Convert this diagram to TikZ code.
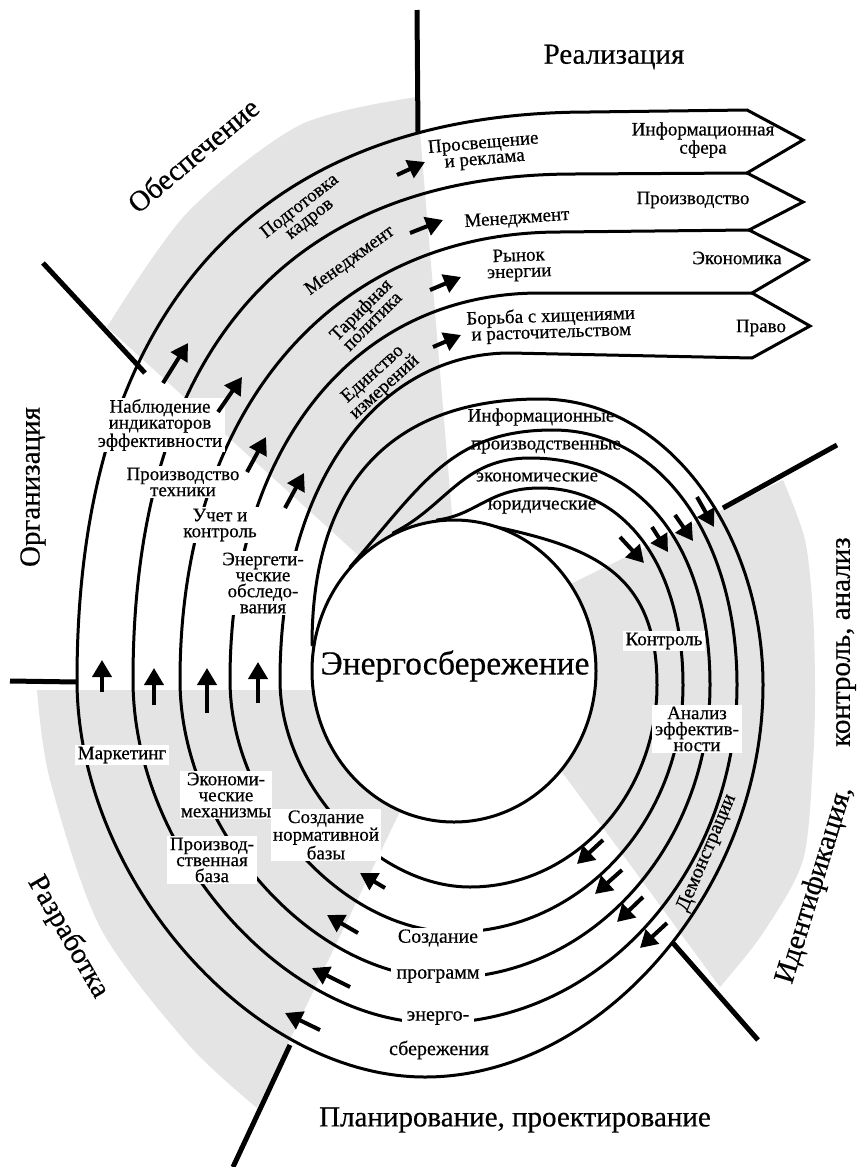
\documentclass[tikz,border=0pt]{standalone}
\usepackage{fontspec}
\setmainfont{Liberation Serif}[AutoFakeBold=0.5]
\usetikzlibrary{arrows.meta}
\definecolor{gr}{RGB}{228,228,228}
\begin{document}
\begin{tikzpicture}[x=1pt,y=-1pt,
  spiral/.style={line width=3pt, line cap=round},
  divider/.style={line width=5pt},
  arr/.style={line width=4pt, -{Triangle[length=17pt,width=19pt]}},
  lbl/.style={font=\fontsize{19}{16}\selectfont\bfseries, align=center, inner sep=1pt},
  wlbl/.style={lbl, fill=white, inner xsep=3pt, inner ysep=1.5pt},
  title/.style={font=\fontsize{29}{30}\selectfont\bfseries, inner sep=0pt},
]
\fill[white] (0,0) rectangle (861,1167);
\useasboundingbox (0,0) rectangle (861,1167);

% grey sectors
\fill[gr] plot[smooth] coordinates {(417,97) (300,125) (187,213) (107,327)} -- (380,575) -- (454,600) -- (452,515) -- cycle;
\fill[gr] (540,599) -- (783,480) -- plot[smooth] coordinates {(783,480) (805,540) (813,613) (815,690) (813,760) (803,860) (763,933) (720,987)} -- (540,742) -- cycle;
\fill[gr] (37,690) -- (420,690) -- (420,770) -- plot[smooth] coordinates {(257,1108) (187,1043) (100,927) (50,780) (37,690)} -- cycle;

% spiral lines
\draw[spiral] (312,645) .. controls (312,480) and (395,399) .. (540,399)
  .. controls (670,399) and (763,537) .. (763,685)
  .. controls (763,889) and (601,1077) .. (425,1077)
  .. controls (251,1077) and (77,878) .. (77,680)
  .. controls (77,311) and (256,112) .. (590,112) -- (747,110)
  -- (803,140) -- (747,173) -- (803,202) -- (749,230) -- (808,260) -- (752,293) -- (810,326) -- (752,358);
\draw[spiral] (350,567) .. controls (422,485) and (451,430) .. (553,430)
  .. controls (660,430) and (737,537) .. (737,685)
  .. controls (737,871) and (601,1023) .. (435,1023)
  .. controls (284,1023) and (133,851) .. (133,680)
  .. controls (133,351) and (288,174) .. (575,174) -- (747,173);
\draw[spiral] (393,533) .. controls (447,506) and (462,458) .. (530,458)
  .. controls (640,458) and (710,545) .. (710,685)
  .. controls (710,846) and (591,978) .. (445,978)
  .. controls (312,978) and (180,829) .. (180,680)
  .. controls (180,411) and (332,232) .. (560,232) -- (749,230);
\draw[spiral] (437,520) .. controls (477,515) and (489,488) .. (540,488)
  .. controls (626,488) and (683,567) .. (683,685)
  .. controls (683,821) and (580,932) .. (455,932)
  .. controls (342,932) and (230,806) .. (230,680)
  .. controls (230,448) and (354,293) .. (540,293) -- (752,293);
\draw[spiral] (482,524) .. controls (590,546) and (657,570) .. (657,685)
  .. controls (657,796) and (573,887) .. (470,887)
  .. controls (375,887) and (280,783) .. (280,680)
  .. controls (280,480) and (380,353) .. (510,353) -- (752,358);

% central ellipse
\draw[line width=3pt, fill=white] (454,671) ellipse [x radius=142pt, y radius=151pt];
\node[font=\fontsize{33.5}{34}\selectfont\bfseries, inner sep=0pt] (core) at (455,666) {Энергосбережение};

% dividers
\draw[divider] (417,10) -- (418,132);
\draw[divider] (43,263) -- (145,373);
\draw[divider] (10,681) -- (77,682);
\draw[divider] (290,1045) -- (233,1167);
\draw[divider] (673,943) -- (758,1040);
\draw[divider] (723,508) -- (837,445);

% section titles
\node[title] (t1) at (614,57) {Реализация};
\node[title, rotate=40] (t2) at (193,155) {Обеспечение};
\node[title, rotate=90] (t3) at (33,487) {Организация};
\node[title, rotate=-60] (t4) at (68,937) {Разработка};
\node[title] (t5) at (515,1120) {Планирование, проектирование};
\node[title, rotate=73] (t6) at (815,885) {Идентификация,};
\node[title, rotate=90] (t7) at (846,642) {контроль, анализ};

% band labels
\node[lbl] (b1) at (703,140) {Информационная\\сфера};
\node[lbl] (b2) at (693,200) {Производство};
\node[lbl] (b3) at (737,258) {Экономика};
\node[lbl] (b4) at (761,328) {Право};
\node[lbl, rotate=5] (r1) at (484,152) {Просвещение\\и реклама};
\node[lbl, rotate=4] (r2) at (517,219) {Менеджмент};
\node[lbl, rotate=2] (r3) at (519,265) {Рынок\\энергии};
\node[lbl, rotate=2] (r4) at (551,325) {Борьба с хищениями\\и расточительством};

% arc labels upper left
\node[lbl, rotate=38] (s1) at (305,213) {Подготовка\\кадров};
\node[lbl, rotate=36] (s2) at (350,261) {Менеджмент};
\node[lbl, rotate=45] (s3) at (366,315) {Тарифная\\политика};
\node[lbl, rotate=42] (s4) at (379,381) {Единство\\измерений};

% inner labels
\node[lbl] (i1) at (541,417) {Информационные};
\node[lbl] (i2) at (546,447) {производственные};
\node[lbl] (i3) at (537,477) {экономические};
\node[lbl] (i4) at (542,507) {юридические};

% right labels
\node[wlbl] (k1) at (664,641) {Контроль};
\node[wlbl] (k2) at (697,729) {Анализ\\эффектив-\\ности};
\node[lbl, font=\fontsize{20}{20}\selectfont\bfseries, rotate=67] (k3) at (707,853) {Демонстрации};

% bottom labels
\node[wlbl, font=\fontsize{20}{20}\selectfont\bfseries, inner xsep=5pt] (p1) at (438,938) {Создание};
\node[wlbl, font=\fontsize{20}{20}\selectfont\bfseries, inner xsep=5pt] (p2) at (438,976) {программ};
\node[wlbl, font=\fontsize{20}{20}\selectfont\bfseries, inner xsep=5pt] (p3) at (438,1018) {энерго-};
\node[wlbl, font=\fontsize{20}{20}\selectfont\bfseries, inner xsep=5pt] (p4) at (439,1050) {сбережения};

% lower left labels
\node[wlbl, inner xsep=2pt] (m4) at (326,835) {Создание\\нормативной\\базы};
\node[wlbl] (m1) at (122,755) {Маркетинг};
\node[wlbl, inner xsep=1pt] (m2) at (226,795) {Экономи-\\ческие\\механизмы};
\node[wlbl] (m3) at (212,860) {Производ-\\ственная\\база};

% upper left labels
\node[wlbl] (u1) at (160,425) {Наблюдение\\индикаторов\\эффективности};
\node[wlbl] (u2) at (183,482) {Производство\\техники};
\node[wlbl] (u3) at (220,525) {Учет и\\контроль};
\node[wlbl] (u4) at (263,583) {Энергети-\\ческие\\обследо-\\вания};

% arrows
\draw[arr] (163,383) -- (188,343);
\draw[arr] (218,412) -- (242,377);
\draw[arr] (247,472) -- (266,437);
\draw[arr] (285,508) -- (304,473);

\draw[arr] (397,175) -- (425,162);
\draw[arr] (410,233) -- (443,220);
\draw[arr] (430,290) -- (461,277);
\draw[arr] (433,347) -- (461,335);

\draw[arr] (620,537) -- (644,563);
\draw[arr] (652,527) -- (668,552);
\draw[arr] (675,515) -- (693,541);
\draw[arr] (697,497) -- (714,527);

\draw[arr] (603,840) -- (577,864);
\draw[arr] (622,870) -- (595,894);
\draw[arr] (643,897) -- (617,922);
\draw[arr] (667,923) -- (640,948);

\draw[arr] (385,888) -- (360,873);
\draw[arr] (358,933) -- (327,915);
\draw[arr] (350,987) -- (312,968);
\draw[arr] (320,1030) -- (285,1013);

\draw[arr] (102,692) -- (102,660);
\draw[arr] (154,705) -- (154,668);
\draw[arr] (207,713) -- (207,668);
\draw[arr] (258,703) -- (258,662);
\end{tikzpicture}
\end{document}
